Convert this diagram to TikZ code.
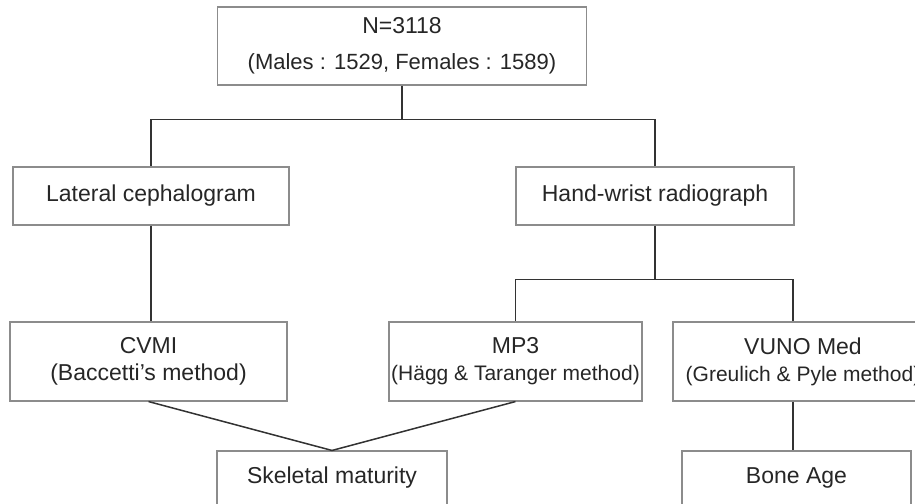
\documentclass[tikz,border=0pt]{standalone}
\usepackage{fontspec}
\setmainfont{Liberation Sans}
\definecolor{boxgray}{gray}{0.55}
\definecolor{linegray}{gray}{0.2}
\definecolor{textgray}{gray}{0.15}

\begin{document}
\begin{tikzpicture}[
			x=1pt,y=-1pt,
			box/.style={
				draw=boxgray,
				rectangle,
				line width=1.1pt,
				inner sep=0pt,
				text=textgray,
				align=center,
				font=\fontsize{23}{27}\selectfont
			},
			link/.style={
				draw=linegray,
				line width=1.5pt
			}
			]
			\useasboundingbox (0,0) rectangle (915,503);
			\clip (0,0) rectangle (915,503);
			
			% Nodes
			\node[box, minimum width=369, minimum height=78] (total) at (402,46) {N=3118\\[9pt]{\fontsize{22}{27}\selectfont(Males : 1529, Females : 1589)}};
			\node[box, minimum width=276, minimum height=58] (lateral) at (151,196) {Lateral cephalogram};
			\node[box, minimum width=278, minimum height=58] (hand) at (655,196) {Hand-wrist radiograph};
			\node[box, minimum width=277, minimum height=79] (cvmi) at (148.5,361.5) {CVMI\\(Baccetti’s method)};
			\node[box, minimum width=253, minimum height=79] (mp3) at (515.5,361.5) {MP3\\{\fontsize{21}{25}\selectfont(Hägg \& Taranger method)}};
			\node[box, minimum width=260, minimum height=79] (vuno) at (803,361.5) {VUNO Med\\{\fontsize{21}{25}\selectfont(Greulich \& Pyle method)}};
			\node[box, minimum width=230, minimum height=54] (skeletal) at (332,478) {Skeletal maturity};
			\node[box, minimum width=229, minimum height=54] (bone) at (796.5,478) {Bone Age};
			
			% Lines
			\draw[link] (total.south) -- ++(0,34) coordinate (split1) -| (lateral.north);
			\draw[link] (split1) -| (hand.north);
			\draw[link] (lateral.south) -- (lateral.south |- cvmi.north);
			\draw[link] (hand.south) -- ++(0,54) coordinate (split2) -| (mp3.north);
			\draw[link] (split2) -| ([xshift=-10pt]vuno.north);
			\draw[link] ([xshift=-10pt]vuno.south) -- ([xshift=-10pt]vuno.south |- bone.north);
			\draw[link] (cvmi.south) -- (skeletal.north);
			\draw[link] (mp3.south) -- (skeletal.north);
			
		\end{tikzpicture}
\end{document}
